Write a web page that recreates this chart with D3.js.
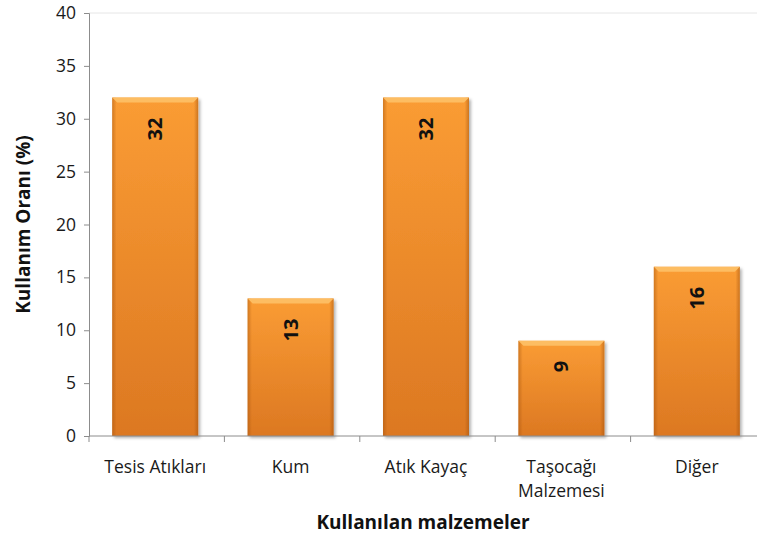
<!DOCTYPE html>
<html>
<head>
<meta charset="utf-8">
<script src="https://cdn.jsdelivr.net/npm/d3@7"></script>
<style>
  body { margin: 0; background: #fff; }
  text { font-family: "Open Sans", Lato, sans-serif; }
</style>
</head>
<body>
<div id="chart"></div>
<script>
// data
const categories = ["Tesis Atıkları", "Kum", "Atık Kayaç", "Taşocağı\nMalzemesi", "Diğer"];
const values = [32, 13, 32, 9, 16];
const yTicks = [0, 5, 10, 15, 20, 25, 30, 35, 40];

const width = 757, height = 538;
const margin = { top: 13, right: -9, bottom: 102, left: 89 };

const svg = d3.select("#chart").append("svg")
    .attr("width", width)
    .attr("height", height);

const defs = svg.append("defs");

// vertical shading of the bar body
const body = defs.append("linearGradient").attr("id", "barBody")
    .attr("x1", 0).attr("y1", 0).attr("x2", 0).attr("y2", 1);
body.append("stop").attr("offset", "0%").attr("stop-color", "#fa9c34");
body.append("stop").attr("offset", "100%").attr("stop-color", "#dc7822");

// darker side edges
const sides = defs.append("linearGradient").attr("id", "barSides")
    .attr("x1", 0).attr("y1", 0).attr("x2", 1).attr("y2", 0);
sides.append("stop").attr("offset", "0%").attr("stop-color", "#a0500c").attr("stop-opacity", 0.45);
sides.append("stop").attr("offset", "5%").attr("stop-color", "#a0500c").attr("stop-opacity", 0);
sides.append("stop").attr("offset", "95%").attr("stop-color", "#a0500c").attr("stop-opacity", 0);
sides.append("stop").attr("offset", "100%").attr("stop-color", "#a0500c").attr("stop-opacity", 0.5);

const shadow = defs.append("filter").attr("id", "shadow")
    .attr("x", "-10%").attr("y", "-5%").attr("width", "125%").attr("height", "115%");
shadow.append("feDropShadow").attr("dx", 2).attr("dy", 2).attr("stdDeviation", 1.5)
    .attr("flood-color", "#000").attr("flood-opacity", 0.3);

// outer padding = half the inner one, so band boundaries fall on the axis ticks
const x = d3.scaleBand()
    .domain(categories)
    .range([margin.left, width - margin.right])
    .paddingInner(0.365)
    .paddingOuter(0.1825);

const y = d3.scaleLinear()
    .domain([0, 40])
    .range([height - margin.bottom, margin.top]);

// faint top border of the plot area
svg.append("line")
    .attr("x1", margin.left).attr("x2", width)
    .attr("y1", y(40)).attr("y2", y(40))
    .attr("stroke", "#e6e6e6");

// bars
const bars = svg.append("g").selectAll("g")
    .data(values)
    .enter().append("g")
    .attr("transform", "translate(-1.5,0)");

bars.append("rect")
    .attr("x", (d, i) => x(categories[i]))
    .attr("y", d => y(d))
    .attr("width", x.bandwidth())
    .attr("height", d => y(0) - y(d))
    .attr("fill", "url(#barBody)")
    .attr("filter", "url(#shadow)");

bars.append("rect")
    .attr("x", (d, i) => x(categories[i]))
    .attr("y", d => y(d))
    .attr("width", x.bandwidth())
    .attr("height", d => y(0) - y(d))
    .attr("fill", "url(#barSides)");

// light bevel along the top
bars.append("path")
    .attr("d", (d, i) => {
        const x0 = x(categories[i]), x1 = x0 + x.bandwidth(), t = y(d);
        return `M${x0},${t}L${x1},${t}L${x1 - 5},${t + 5}L${x0 + 5},${t + 5}Z`;
    })
    .attr("fill", "#fdbd62");

// value labels, rotated
bars.append("text")
    .attr("transform", (d, i) => `translate(${x(categories[i]) + x.bandwidth() / 2 + 7},${y(d) + 20}) rotate(-90)`)
    .attr("text-anchor", "end")
    .attr("font-size", 20)
    .attr("font-weight", "bold")
    .attr("fill", "#111")
    .text(d => d);

// y axis
const yAxis = svg.append("g")
    .attr("transform", `translate(${margin.left},0)`)
    .call(d3.axisLeft(y).tickValues(yTicks).tickSize(5).tickPadding(8));
yAxis.select(".domain").attr("stroke", "#8c8c8c");
yAxis.selectAll(".tick line").attr("stroke", "#8c8c8c");
yAxis.selectAll(".tick text")
    .attr("font-family", "'Open Sans', sans-serif")
    .attr("font-size", 17.5)
    .attr("fill", "#1a1a1a");

// x axis: ticks at band boundaries
const xAxisG = svg.append("g").attr("transform", `translate(0,${y(0)})`);
xAxisG.append("line")
    .attr("x1", margin.left).attr("x2", width)
    .attr("stroke", "#8c8c8c");
const step = x.step();
const boundaries = categories.map((c, i) => margin.left + i * step).concat([margin.left + categories.length * step]);
xAxisG.selectAll(".btick")
    .data(boundaries)
    .enter().append("line")
    .attr("x1", d => d).attr("x2", d => d)
    .attr("y1", 0).attr("y2", 6)
    .attr("stroke", "#8c8c8c");

const xLabels = xAxisG.selectAll(".xlabel")
    .data(categories)
    .enter().append("text")
    .attr("text-anchor", "middle")
    .attr("font-size", 17.5)
    .attr("fill", "#1a1a1a")
    .attr("transform", d => `translate(${x(d) + x.bandwidth() / 2 - 1.5},37)`);
xLabels.each(function (d) {
    const lines = d.split("\n");
    d3.select(this).selectAll("tspan")
        .data(lines)
        .enter().append("tspan")
        .attr("x", 0)
        .attr("dy", (l, j) => j === 0 ? 0 : 24)
        .text(l => l);
});

// axis titles
svg.append("text")
    .attr("x", 423).attr("y", 529)
    .attr("text-anchor", "middle")
    .attr("font-size", 19)
    .attr("font-weight", "bold")
    .attr("fill", "#111")
    .text("Kullanılan malzemeler");

svg.append("text")
    .attr("transform", `translate(30,${(y(0) + y(40)) / 2}) rotate(-90)`)
    .attr("text-anchor", "middle")
    .attr("font-size", 19)
    .attr("font-weight", "bold")
    .attr("fill", "#111")
    .text("Kullanım Oranı (%)");
</script>
</body>
</html>
